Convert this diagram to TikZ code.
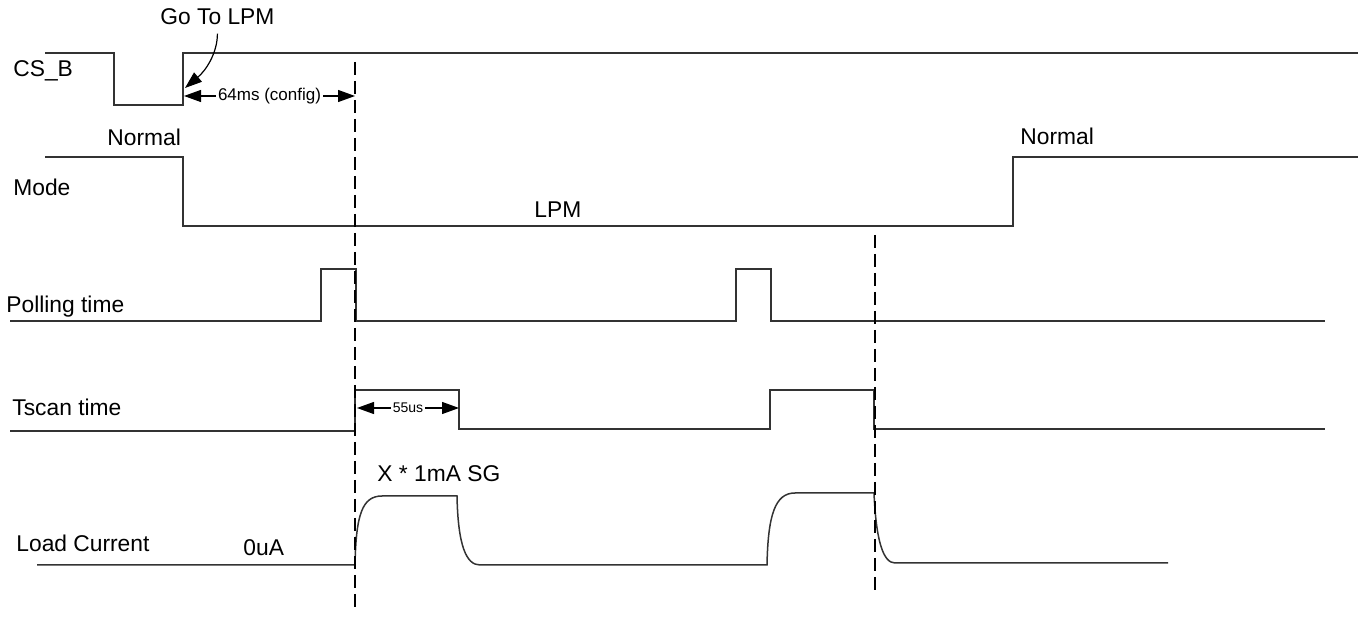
\documentclass[tikz,border=0pt]{standalone}
\usepackage{fontspec}
\setmainfont{Liberation Sans}
\usetikzlibrary{arrows.meta}

\begin{document}
\begin{tikzpicture}[x=0.5pt,y=-0.5pt,>={Triangle[length=8.5pt,width=6pt]},
   sig/.style={line width=0.75pt,black!80},
   cut/.style={line width=1.4pt,dash pattern=on 6.5pt off 3pt},
   dimline/.style={line width=0.6pt,<->},
   lbl/.style={anchor=base west,inner sep=0pt,font=\fontsize{11.4}{13}\selectfont},
   dimlbl/.style={fill=white,inner sep=1pt,font=\fontsize{8.5}{10}\selectfont}]
\useasboundingbox (0,0) rectangle (1365,619);
% signal names
\node[lbl] (csb) at (13,77) {CS\_B};
\node[lbl] (mode) at (13,196) {Mode};
\node[lbl] (poll) at (6,313) {Polling time};
\node[lbl] (tscan) at (12,416) {Tscan time};
\node[lbl] (load) at (16,552) {Load Current};
% state labels
\node[lbl] (golpm) at (160,25) {Go To LPM};
\node[lbl] (norm1) at (107,146) {Normal};
\node[lbl] (norm2) at (1020,145) {Normal};
\node[lbl] (lpm) at (534,218) {LPM};
\node[lbl] (zero) at (243,556) {0uA};
\node[lbl] (sg) at (377,482) {X * 1mA SG};
% waveforms
\draw[sig] (45,53) -- (114,53) -- (114,105) -- (183,105) -- (183,53) -- (1358,53);
\draw[sig] (45,157) -- (183,157) -- (183,226) -- (1013,226) -- (1013,157) -- (1358,157);
\draw[sig] (10,321) -- (321,321) -- (321,269) -- (356,269) -- (356,321) -- (736,321)
   -- (736,269) -- (771,269) -- (771,321) -- (1325,321);
\draw[sig] (10,431) -- (355,431) -- (355,390) -- (459,390) -- (459,429) -- (770,429)
   -- (770,390) -- (874,390) -- (874,429) -- (1325,429);
\draw[sig] (37,565) -- (355,565) .. controls (356,515) and (362,496) .. (382,496) -- (457,496)
   .. controls (458,545) and (466,565) .. (480,565) -- (767,565)
   .. controls (768,515) and (775,493) .. (795,493) -- (874,493)
   .. controls (876,540) and (883,563) .. (895,563) -- (1168,563);
% time cuts
\coordinate (c1top) at (355,62);
\coordinate (c1bot) at (355,612);
\coordinate (c2top) at (875,235);
\coordinate (c2bot) at (875,592);
\draw[cut] (c1top) -- (c1bot);
\draw[cut] (c2top) -- (c2bot);
% intervals
\coordinate (d64a) at (184,96);
\coordinate (d64b) at (355,96);
\draw[dimline] (d64a) -- node[dimlbl]{64ms (config)} (d64b);
\coordinate (d55a) at (357,408);
\coordinate (d55b) at (459,408);
\draw[dimline] (d55a) -- node[dimlbl,font=\fontsize{7}{8}\selectfont]{55us} (d55b);
\coordinate (goto) at (185,88);
\draw[line width=0.6pt,->,shorten <=4pt] (golpm.south) to[out=-90,in=40] (goto);
\end{tikzpicture}
\end{document}
